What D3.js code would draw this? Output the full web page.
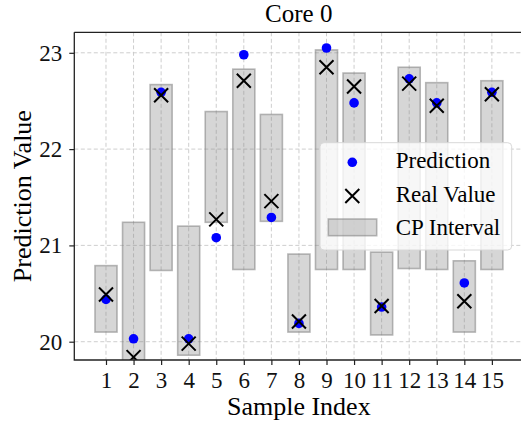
<!DOCTYPE html>
<html>
<head>
<meta charset="utf-8">
<script src="https://cdn.jsdelivr.net/npm/d3@7"></script>
<style>
  body { margin: 0; background: white; }
  svg { display: block; font-family: "Liberation Serif", "Times New Roman", serif; }
</style>
</head>
<body>
<script>
// data
const sampleIdx = [1, 2, 3, 4, 5, 6, 7, 8, 9, 10, 11, 12, 13, 14, 15];
const predictions = [20.44, 20.03, 22.59, 20.03, 21.08, 22.98, 21.29, 20.19, 23.05, 22.48, 20.36, 22.73, 22.48, 20.61, 22.59];
const realValues = [20.49, 19.84, 22.56, 19.98, 21.27, 22.71, 21.46, 20.21, 22.85, 22.65, 20.37, 22.68, 22.45, 20.42, 22.57];
const cpLower = [20.10, 19.70, 20.74, 19.86, 21.24, 20.75, 21.25, 20.10, 20.75, 20.75, 20.07, 20.76, 20.75, 20.10, 20.75];
const cpUpper = [20.79, 21.24, 22.67, 21.20, 22.39, 22.83, 22.36, 20.91, 23.03, 22.79, 20.93, 22.85, 22.69, 20.84, 22.71];
const yTicks = [20, 21, 22, 23];

const W = 521, H = 423;
const plot = { left: 74.3, right: 523.3, top: 32.3, bottom: 360 };

const svg = d3.select('body').append('svg')
    .attr('width', W)
    .attr('height', H);

const x = d3.scaleLinear()
    .domain([-0.15, 16.14])
    .range([plot.left, plot.right]);
const y = d3.scaleLinear()
    .domain([19.81, 23.213])
    .range([plot.bottom, plot.top]);

svg.append('clipPath').attr('id', 'clip')
    .append('rect')
    .attr('x', plot.left).attr('y', plot.top)
    .attr('width', plot.right - plot.left)
    .attr('height', plot.bottom - plot.top);

// grid
const grid = svg.append('g');
grid.selectAll('.vg').data(sampleIdx).enter().append('line')
    .attr('x1', d => x(d)).attr('x2', d => x(d))
    .attr('y1', plot.top).attr('y2', plot.bottom)
    .attr('stroke', '#c8c8c8').attr('stroke-width', 0.9)
    .attr('stroke-dasharray', '4,2.5');
grid.selectAll('.hg').data(yTicks).enter().append('line')
    .attr('x1', plot.left).attr('x2', plot.right)
    .attr('y1', d => y(d)).attr('y2', d => y(d))
    .attr('stroke', '#c8c8c8').attr('stroke-width', 0.9)
    .attr('stroke-dasharray', '4,2.5');

const marks = svg.append('g').attr('clip-path', 'url(#clip)');
const bw = x(0.8) - x(0);

// CP interval bars
marks.selectAll('.bar').data(sampleIdx).enter().append('rect')
    .attr('x', d => x(d) - bw / 2)
    .attr('y', (d, i) => y(cpUpper[i]))
    .attr('width', bw)
    .attr('height', (d, i) => y(cpLower[i]) - y(cpUpper[i]))
    .attr('fill', '#808080').attr('fill-opacity', 0.32)
    .attr('stroke', '#808080').attr('stroke-opacity', 0.55)
    .attr('stroke-width', 1.6);

// predictions
marks.selectAll('.pred').data(sampleIdx).enter().append('circle')
    .attr('cx', d => x(d))
    .attr('cy', (d, i) => y(predictions[i]))
    .attr('r', 4.8)
    .attr('fill', '#0000ff');

// real values (x markers)
const xs = 7;
const crossPath = (cx, cy) => `M${cx - xs},${cy - xs}L${cx + xs},${cy + xs}M${cx - xs},${cy + xs}L${cx + xs},${cy - xs}`;
marks.selectAll('.real').data(sampleIdx).enter().append('path')
    .attr('d', (d, i) => crossPath(x(d), y(realValues[i])))
    .attr('stroke', 'black').attr('stroke-width', 2).attr('fill', 'none');

// axes
const xAxis = svg.append('g')
    .attr('transform', `translate(0,${plot.bottom})`)
    .call(d3.axisBottom(x).tickValues(sampleIdx).tickSize(5).tickPadding(6).tickSizeOuter(0));
const yAxis = svg.append('g')
    .attr('transform', `translate(${plot.left},0)`)
    .call(d3.axisLeft(y).tickValues(yTicks).tickFormat(d3.format('d')).tickSize(5).tickPadding(7).tickSizeOuter(0));
[xAxis, yAxis].forEach(a => {
    a.select('.domain').remove();
    a.selectAll('.tick line').attr('stroke', '#222').attr('stroke-width', 1.2);
    a.selectAll('.tick text')
        .style('font-family', '"Liberation Serif", serif')
        .style('font-size', '23px')
        .attr('fill', '#111');
});
xAxis.selectAll('.tick text').attr('dy', '0.72em');

// spines
svg.append('path')
    .attr('d', `M${plot.left},${plot.top}L${plot.right},${plot.top}M${plot.left},${plot.top}L${plot.left},${plot.bottom}L${plot.right},${plot.bottom}`)
    .attr('stroke', '#222').attr('stroke-width', 1.3).attr('fill', 'none');

// labels
svg.append('text')
    .attr('x', (plot.left + plot.right) / 2).attr('y', 22)
    .attr('text-anchor', 'middle')
    .style('font-size', '25px')
    .text('Core 0');
svg.append('text')
    .attr('x', 298.8).attr('y', 415)
    .attr('text-anchor', 'middle')
    .style('font-size', '26px')
    .text('Sample Index');
svg.append('text')
    .attr('transform', `translate(31,${(plot.top + plot.bottom) / 2}) rotate(-90)`)
    .attr('text-anchor', 'middle')
    .style('font-size', '26px')
    .text('Prediction Value');

// legend
const lg = svg.append('g').attr('transform', 'translate(320,142.7)');
lg.append('rect')
    .attr('width', 191.7).attr('height', 107.3)
    .attr('rx', 4)
    .attr('fill', 'white').attr('fill-opacity', 0.8)
    .attr('stroke', '#d8d8d8').attr('stroke-width', 1);
lg.append('circle').attr('cx', 32.3).attr('cy', 19.6).attr('r', 4.8).attr('fill', '#0000ff');
lg.append('path').attr('d', crossPath(32.3, 53.3))
    .attr('stroke', 'black').attr('stroke-width', 2).attr('fill', 'none');
lg.append('rect')
    .attr('x', 8.3).attr('y', 76.3).attr('width', 48.4).attr('height', 16.7)
    .attr('fill', '#808080').attr('fill-opacity', 0.32)
    .attr('stroke', '#808080').attr('stroke-opacity', 0.55)
    .attr('stroke-width', 1.6);
const legendLabels = ['Prediction', 'Real Value', 'CP Interval'];
lg.selectAll('.lt').data(legendLabels).enter().append('text')
    .attr('x', 75.7)
    .attr('y', (d, i) => 25.6 + i * 33.4)
    .style('font-size', '23px')
    .text(d => d);
</script>
</body>
</html>
